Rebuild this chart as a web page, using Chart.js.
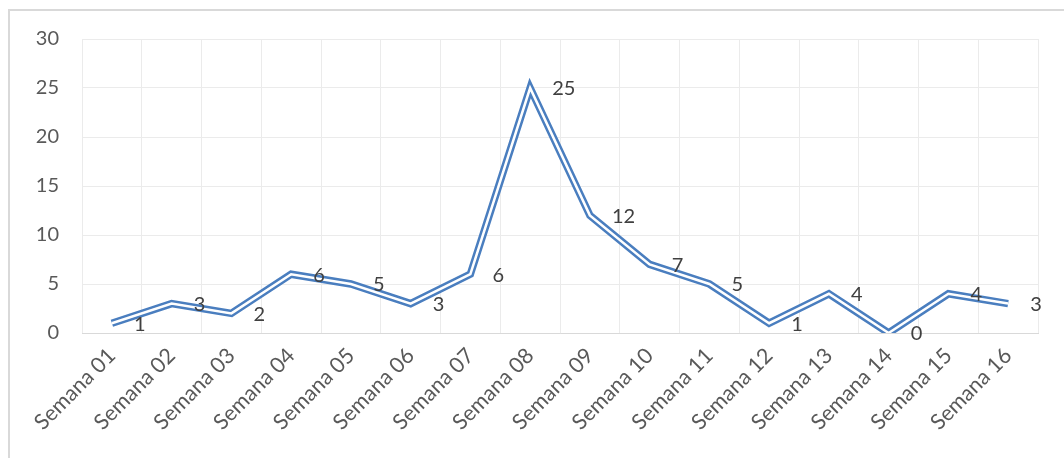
<!DOCTYPE html>
<html>
<head>
<meta charset="utf-8">
<script src="https://cdn.jsdelivr.net/npm/chart.js@4/dist/chart.umd.min.js"></script>
<style>
  html, body { margin: 0; padding: 0; background: #fff; overflow: hidden; }
  #wrap { position: relative; width: 1064px; height: 458px; }
  #frame { position: absolute; left: 8px; top: 9px; width: 1100px; height: 600px;
           border: 2px solid #d9d9d9; box-sizing: border-box; }
  canvas { position: absolute; left: 0; top: 0; }
</style>
</head>
<body>
<div id="wrap">
  <div id="frame"></div>
  <canvas id="c" width="1064" height="458"></canvas>
</div>
<script>
// Weekly counts
const categories = ['Semana 01','Semana 02','Semana 03','Semana 04','Semana 05','Semana 06','Semana 07','Semana 08',
                    'Semana 09','Semana 10','Semana 11','Semana 12','Semana 13','Semana 14','Semana 15','Semana 16'];
const values = [1, 3, 2, 6, 5, 3, 6, 25, 12, 7, 5, 1, 4, 0, 4, 3];
const yTicks = [0, 5, 10, 15, 20, 25, 30];

const FONT = 'Lato, "Open Sans", sans-serif';
const BLUE = '#4a7ebf';

// value labels placed to the right of each point
const valueLabels = {
  id: 'valueLabels',
  afterDatasetsDraw(chart) {
    const meta = chart.getDatasetMeta(0);
    const ctx = chart.ctx;
    ctx.save();
    ctx.font = '20px ' + FONT;
    ctx.fillStyle = '#404040';
    ctx.textAlign = 'left';
    ctx.textBaseline = 'middle';
    meta.data.forEach((pt, i) => {
      ctx.fillText(String(values[i]), pt.x + 22, pt.y + 1);
    });
    ctx.restore();
  }
};

new Chart(document.getElementById('c'), {
  type: 'line',
  data: {
    labels: categories,
    datasets: [
      // double-line effect: a thick blue stroke with a thin white core on top
      { data: values, borderColor: '#ffffff', borderWidth: 2.5, pointRadius: 0,
        borderJoinStyle: 'miter', borderCapStyle: 'butt', tension: 0, order: 0 },
      { data: values, borderColor: BLUE, borderWidth: 7.5, pointRadius: 0,
        borderJoinStyle: 'miter', borderCapStyle: 'butt', tension: 0, order: 1 }
    ]
  },
  options: {
    responsive: false,
    animation: false,
    events: [],
    layout: { padding: { left: 0, right: 26, top: 39, bottom: 0 } },
    plugins: { legend: { display: false }, tooltip: { enabled: false } },
    scales: {
      x: {
        offset: true,
        grid: { offset: true, color: '#ebebeb', lineWidth: 1, drawTicks: false },
        border: { color: '#d9d9d9', width: 1 },
        ticks: { color: '#595959', font: { family: FONT, size: 21.5 },
                 minRotation: 45, maxRotation: 45, autoSkip: false, padding: 10 },
        afterFit(s) { s.height = 125; }
      },
      y: {
        min: 0, max: 30,
        afterBuildTicks(s) { s.ticks = yTicks.map(v => ({ value: v })); },
        grid: { color: '#ebebeb', lineWidth: 1, drawTicks: false },
        border: { display: false },
        ticks: { color: '#595959', font: { family: FONT, size: 20 }, padding: 23 },
        afterFit(s) { s.width = 82; }
      }
    }
  },
  plugins: [valueLabels]
});
</script>
</body>
</html>
